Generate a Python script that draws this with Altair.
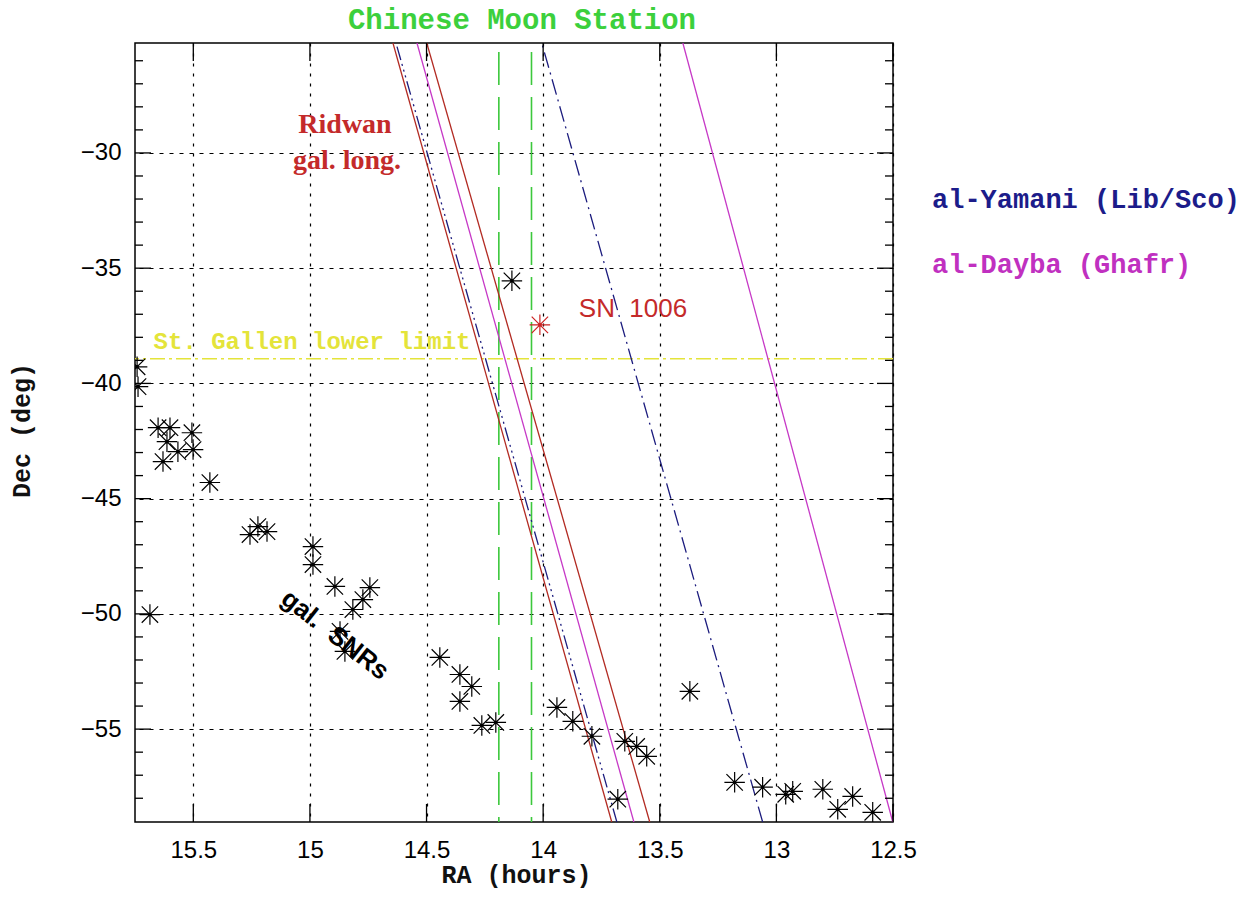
import altair as alt
import pandas as pd

# ---------------- data ----------------
RA_TICKS = [15.5, 15.0, 14.5, 14.0, 13.5, 13.0, 12.5]
DEC_TICKS = [-30, -35, -40, -45, -50, -55]
DEC_MINOR = [d for d in range(-58, -25) if d % 5 != 0]

SNR_RA = [15.741, 15.737, 15.651, 15.600, 15.613, 15.566, 15.630, 15.506, 15.501, 15.429,
          15.686, 15.257, 15.223, 15.184, 14.987, 14.987, 14.893, 14.743, 14.773, 14.816,
          14.871, 14.850, 14.443, 14.357, 14.306, 14.357, 14.263, 14.203, 13.941, 13.873,
          13.791, 13.650, 13.599, 13.556, 13.680, 13.371, 13.179, 13.059, 12.960, 12.930,
          12.801, 12.737, 12.673, 12.587, 14.134]
SNR_DEC = [-39.28, -40.14, -41.92, -41.92, -42.53, -42.96, -43.39, -42.14, -42.87, -44.30,
           -50.03, -46.56, -46.21, -46.43, -47.08, -47.86, -48.81, -48.86, -49.38, -49.81,
           -50.76, -51.63, -51.89, -52.63, -53.15, -53.80, -54.84, -54.71, -54.06, -54.66,
           -55.31, -55.53, -55.75, -56.18, -58.04, -53.36, -57.31, -57.52, -57.83, -57.70,
           -57.61, -58.48, -57.92, -58.61, -35.55]

SN1006_RA = [14.014]
SN1006_DEC = [-37.46]

LINE_NAMES = ["Ridwan W", "al-Yamani W", "al-Dayba W", "Ridwan E", "al-Yamani E", "al-Dayba E"]
LINE_RA_TOP = [14.644, 14.631, 14.541, 14.499, 14.006, 13.401]
LINE_RA_BOTTOM = [13.706, 13.684, 13.611, 13.543, 13.059, 12.501]
LINE_DEC_TOP = -25.23
LINE_DEC_BOTTOM = -59.03

MOON_RA = [14.19, 14.05]
STGALLEN_DEC = [-38.93]

# ---------------- styles ----------------
LINE_STYLE = {
    "Ridwan W": ("#b22a22", []),
    "Ridwan E": ("#b22a22", []),
    "al-Dayba W": ("#c638c6", []),
    "al-Dayba E": ("#c638c6", []),
    "al-Yamani W": ("#1c1c7e", [14, 4, 2, 4, 2, 4, 2, 4]),
    "al-Yamani E": ("#1c1c7e", [16, 5, 2, 5]),
}

W, H = 758, 779
x_scale = alt.Scale(domain=[12.5, 15.75], reverse=True, nice=False, zero=False)
y_scale = alt.Scale(domain=[-59.03, -25.23], nice=False, zero=False)

x_axis = alt.Axis(values=RA_TICKS, format="~g", title="RA (hours)", ticks=False, domain=False,
                  grid=True, gridColor="black", gridDash=[3, 7], gridWidth=1.2,
                  labelFont="Liberation Sans", labelFontSize=24, labelColor="black",
                  labelPadding=16, labelFlush=False, labelOverlap=False,
                  titleFont="Liberation Mono", titleFontSize=25, titleFontWeight="bold",
                  titleColor="#111111", titleX=381, titleY=52, titleBaseline="middle")
y_axis = alt.Axis(values=DEC_TICKS, format="d", title="Dec (deg)", ticks=False, domain=False,
                  grid=True, gridColor="black", gridDash=[4, 6], gridWidth=1.2,
                  labelFont="Liberation Sans", labelFontSize=24, labelColor="black",
                  labelPadding=14, labelFlush=False, labelOverlap=False,
                  titleFont="Liberation Mono", titleFontSize=25, titleFontWeight="bold",
                  titleColor="#111111", titleAngle=-90, titleX=-114, titleY=387,
                  titleBaseline="middle", titleAlign="center")


def X(field="ra"):
    return alt.X(f"{field}:Q", scale=x_scale, axis=x_axis)


def Y(field="dec"):
    return alt.Y(f"{field}:Q", scale=y_scale, axis=y_axis)


snr_df = pd.DataFrame({"ra": SNR_RA, "dec": SNR_DEC})
sn_df = pd.DataFrame({"ra": SN1006_RA, "dec": SN1006_DEC})

STAR = "M-1,0L1,0M0,-1L0,1M-0.8,-0.8L0.8,0.8M-0.8,0.8L0.8,-0.8"

layers = []

# green vertical dashed lines
layers.append(alt.Chart(pd.DataFrame({"ra": MOON_RA})).mark_rule(
    color="#3cc83c", strokeWidth=1.6, strokeDash=[33, 12], strokeDashOffset=-9).encode(x=X()))
# yellow horizontal dash-dot
layers.append(alt.Chart(pd.DataFrame({"dec": STGALLEN_DEC})).mark_rule(
    color="#e4e43a", strokeWidth=1.6, strokeDash=[15, 4, 3, 4]).encode(y=Y()))

# slanted lines
for name, rt, rb in zip(LINE_NAMES, LINE_RA_TOP, LINE_RA_BOTTOM):
    col, dash = LINE_STYLE[name]
    df = pd.DataFrame({"ra": [rt, rb], "dec": [LINE_DEC_TOP, LINE_DEC_BOTTOM]})
    kw = dict(color=col, strokeWidth=1.3, clip=True)
    if dash:
        kw["strokeDash"] = dash
    layers.append(alt.Chart(df).mark_line(**kw).encode(x=X(), y=Y(), order=alt.Order("dec:Q")))

# SNR stars
layers.append(alt.Chart(snr_df).mark_point(shape=STAR, size=420, filled=False, stroke="black",
                                           strokeWidth=1.2, opacity=1, clip=True).encode(x=X(), y=Y()))
layers.append(alt.Chart(snr_df).mark_point(shape="circle", size=12, filled=True, color="black",
                                           opacity=1, clip=True).encode(x=X(), y=Y()))
layers.append(alt.Chart(sn_df).mark_point(shape=STAR, size=420, filled=False, stroke="#cc2222",
                                          strokeWidth=1.2, opacity=1).encode(x=X(), y=Y()))
layers.append(alt.Chart(sn_df).mark_point(shape="circle", size=12, filled=True, color="#cc2222",
                                          opacity=1).encode(x=X(), y=Y()))

# inward ticks
xt = pd.DataFrame({"ra": RA_TICKS})
layers.append(alt.Chart(xt).mark_rule(color="black", strokeWidth=1.3).encode(
    x=X(), y=alt.value(0), y2=alt.value(18)))
layers.append(alt.Chart(xt).mark_rule(color="black", strokeWidth=1.3).encode(
    x=X(), y=alt.value(H), y2=alt.value(H - 18)))
yt = pd.DataFrame({"dec": DEC_TICKS})
ym = pd.DataFrame({"dec": DEC_MINOR})
for df, ln in ((yt, 16), (ym, 8)):
    layers.append(alt.Chart(df).mark_rule(color="black", strokeWidth=1.3).encode(
        y=Y(), x=alt.value(0), x2=alt.value(ln)))
    layers.append(alt.Chart(df).mark_rule(color="black", strokeWidth=1.3).encode(
        y=Y(), x=alt.value(W), x2=alt.value(W - ln)))


# annotations
def label(text, x, y, size, color, font, weight="normal", align="center", baseline="middle", angle=0):
    m = dict(text=text, fontSize=size, color=color, font=font, fontWeight=weight,
             align=align, baseline=baseline)
    if angle:
        m["angle"] = angle
    return alt.Chart(pd.DataFrame({"t": [text]})).mark_text(**m).encode(
        x=alt.value(x), y=alt.value(y))


NB = "\u00a0"
layers += [
    label("Chinese Moon Station", 387, -14, 29, "#3cd03c", "Liberation Mono", "bold", baseline="alphabetic"),
    label("Ridwan", 210, 82, 28, "#c42a2a", "Liberation Serif", "bold"),
    label("gal. long.", 212, 118, 28, "#c42a2a", "Liberation Serif", "bold"),
    label("SN" + NB + NB + "1006", 498, 274, 26, "#c42a2a", "Liberation Sans", baseline="alphabetic"),
    label("St. Gallen lower limit", 177, 299, 24, "#e4e43a", "Liberation Mono", "bold"),
    label("al-Yamani (Lib/Sco)", 797, 157, 27, "#1c1c8a", "Liberation Mono", "bold", align="left"),
    label("al-Dayba (Ghafr)", 797, 222, 27, "#c030c0", "Liberation Mono", "bold", align="left"),
    label("gal." + NB + NB + "SNRs", 200, 592, 26, "black", "Liberation Sans", "bold", angle=38),
]

chart = alt.layer(*layers).properties(
    width=W, height=H,
    autosize=alt.AutoSizeParams(type="none"),
    padding={"left": 135, "top": 43, "right": 1249 - 135 - W, "bottom": 909 - 43 - H},
    background="white",
).configure_view(stroke="black", strokeWidth=1.5)

chart.save("out.html", embed_options={"renderer": "svg", "actions": False})
